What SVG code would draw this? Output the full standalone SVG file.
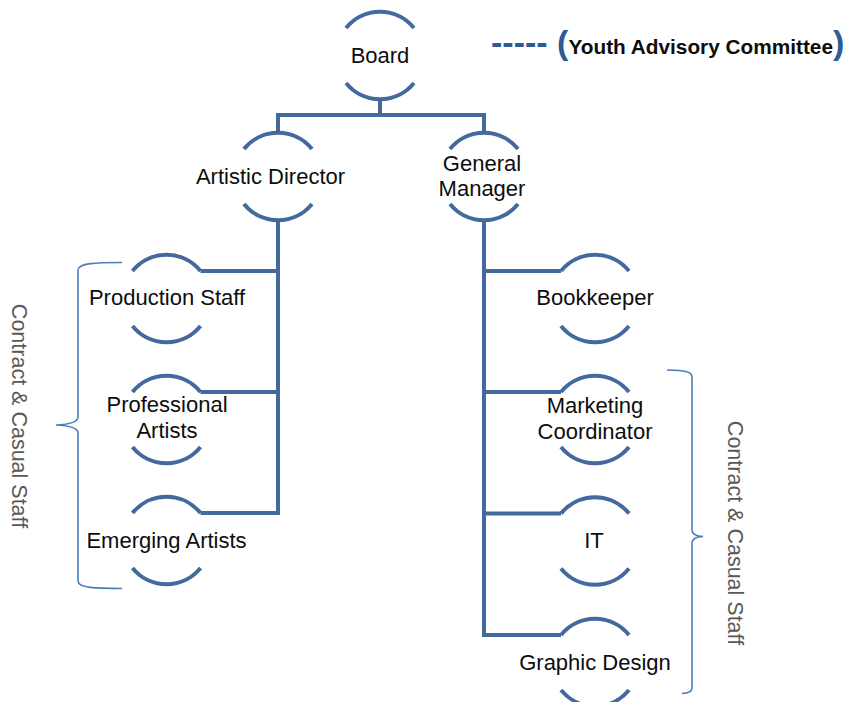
<svg xmlns="http://www.w3.org/2000/svg" width="851" height="702" viewBox="0 0 851 702">
<style>
  .arc { fill: none; stroke: #43699d; stroke-width: 4; }
  .conn { fill: none; stroke: #43699d; stroke-width: 4; stroke-linecap: butt; stroke-linejoin: miter; }
  .lbl { font-family: "Liberation Sans", Arial, sans-serif; font-size: 22px; fill: #0d0d0d; text-anchor: middle; }
  .brace { fill: none; stroke: #4a7ebb; stroke-width: 1.6; }
  .side { font-family: "Liberation Sans", Arial, sans-serif; font-size: 21.5px; fill: #595959; text-anchor: middle; }
</style>
<defs>
  <path id="top" d="M-34,-27.5 A43.7,43.7 0 0 1 34,-27.5"/>
  <path id="bot" d="M-34,27.5 A43.7,43.7 0 0 0 34,27.5"/>
</defs>

<g id="connectors">
  <path class="conn" d="M380,99 V115"/>
  <path class="conn" d="M278,134 V115 H484 V134"/>
  <path class="conn" d="M278,219 V513 H200.5"/>
  <path class="conn" d="M278,271 H200.5"/>
  <path class="conn" d="M278,392 H200.5"/>
  <path class="conn" d="M484,219 V635 H561"/>
  <path class="conn" d="M484,271 H561"/>
  <path class="conn" d="M484,392 H561"/>
  <path class="conn" d="M484,513.5 H561"/>
</g>

<g id="board" transform="translate(380,55.5)">
  <use href="#top" class="arc"/><use href="#bot" class="arc"/>
  <text class="lbl" x="0" y="7.5">Board</text>
</g>
<g id="artistic-director" transform="translate(278,176.5)">
  <use href="#top" class="arc"/><use href="#bot" class="arc"/>
  <text class="lbl" x="-7.5" y="7">Artistic Director</text>
</g>
<g id="general-manager" transform="translate(484,176.5)">
  <use href="#top" class="arc"/><use href="#bot" class="arc"/>
  <text class="lbl" x="-2" y="-5.5">General</text>
  <text class="lbl" x="-2" y="19.5">Manager</text>
</g>
<g id="production-staff" transform="translate(166.5,298.5)">
  <use href="#top" class="arc"/><use href="#bot" class="arc"/>
  <text class="lbl" x="0.5" y="6.5">Production Staff</text>
</g>
<g id="professional-artists" transform="translate(166.5,419.5)">
  <use href="#top" class="arc"/><use href="#bot" class="arc"/>
  <text class="lbl" x="0.5" y="-7.5">Professional</text>
  <text class="lbl" x="0.5" y="18.5">Artists</text>
</g>
<g id="emerging-artists" transform="translate(166.5,540.5)">
  <use href="#top" class="arc"/><use href="#bot" class="arc"/>
  <text class="lbl" x="0" y="7.5">Emerging Artists</text>
</g>
<g id="bookkeeper" transform="translate(595,298.5)">
  <use href="#top" class="arc"/><use href="#bot" class="arc"/>
  <text class="lbl" x="0" y="6.5">Bookkeeper</text>
</g>
<g id="marketing-coordinator" transform="translate(595,419.5)">
  <use href="#top" class="arc"/><use href="#bot" class="arc"/>
  <text class="lbl" x="0" y="-6.5">Marketing</text>
  <text class="lbl" x="0" y="19.5">Coordinator</text>
</g>
<g id="it" transform="translate(595,541)">
  <use href="#top" class="arc"/><use href="#bot" class="arc"/>
  <text class="lbl" x="-1" y="7">IT</text>
</g>
<g id="graphic-design" transform="translate(595,662.5)">
  <use href="#top" class="arc"/><use href="#bot" class="arc"/>
  <text class="lbl" x="0" y="7.5">Graphic Design</text>
</g>

<g id="left-group">
  <path class="brace" d="M122,262.5 C96,262.5 78,263 78,270 V417 Q78,424 56,425 Q78,426 78,433 V581 C78,588 96,588.5 122,588.5"/>
  <text class="side" transform="translate(12,416) rotate(90)">Contract &amp; Casual Staff</text>
</g>
<g id="right-group">
  <path class="brace" d="M667,370 C684,370.5 692,371 692,377 V530 Q692,536 703,536.5 Q692,537 692,543 V688 Q692,693 682,693.5"/>
  <text class="side" transform="translate(728,533) rotate(90)">Contract &amp; Casual Staff</text>
</g>

<g id="legend">
  <text x="491" y="54" font-family="'Liberation Sans', Arial, sans-serif" font-weight="bold"><tspan fill="#2f5b95" font-size="34">----- (</tspan><tspan fill="#0d0d0d" font-size="20.8">Youth Advisory Committee</tspan><tspan fill="#2f5b95" font-size="34">)</tspan></text>
</g>
</svg>
